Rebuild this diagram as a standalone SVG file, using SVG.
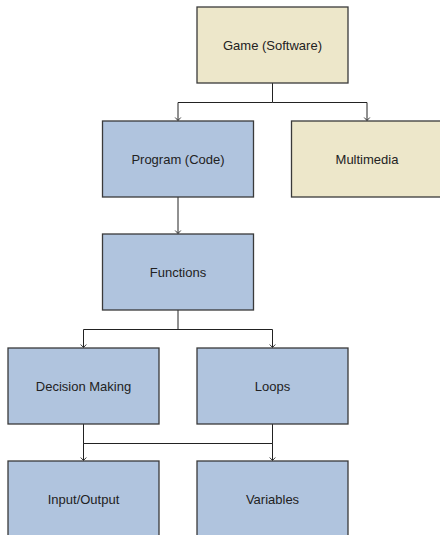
<svg xmlns="http://www.w3.org/2000/svg" width="440" height="535" viewBox="0 0 440 535">
<style>
.box{stroke:#3a3a3a;stroke-width:1.3}
.blue{fill:#b0c4de}
.beige{fill:#ede7ca}
.lbl{font-family:"Liberation Sans",Arial,sans-serif;font-size:13px;fill:#222;text-anchor:middle;dominant-baseline:central}
.edge{fill:none;stroke:#222;stroke-width:1}
</style>
<defs>
<marker id="arr" markerUnits="userSpaceOnUse" markerWidth="10" markerHeight="10" refX="5" refY="5" orient="auto" viewBox="0 0 10 10">
<path d="M2,2.2 L5,5 L2,7.8" fill="none" stroke="#222" stroke-width="0.9"/>
</marker>
</defs>
<rect width="440" height="535" fill="#fff"/>
<g id="connectors">
<path class="edge" d="M272.5,83 V102.5 H178 V120.5" marker-end="url(#arr)"/>
<path class="edge" d="M272.5,102.5 H367 V120.5" marker-end="url(#arr)"/>
<path class="edge" d="M178,197 V233.5" marker-end="url(#arr)"/>
<path class="edge" d="M178,310 V329.5 H83.5 V347.5" marker-end="url(#arr)"/>
<path class="edge" d="M178,329.5 H272.5 V347.5" marker-end="url(#arr)"/>
<path class="edge" d="M83.5,424 V443.5 H272.5 V460.5" marker-end="url(#arr)"/>
<path class="edge" d="M272.5,424 V443.5 H83.5 V460.5" marker-end="url(#arr)"/>
</g>
<g id="game"><rect class="box beige" x="197" y="7" width="151" height="76"/><text class="lbl" x="272.5" y="45">Game (Software)</text></g>
<g id="program"><rect class="box blue" x="102.5" y="121" width="151" height="76"/><text class="lbl" x="178" y="159">Program (Code)</text></g>
<g id="multimedia"><rect class="box beige" x="291.5" y="121" width="151" height="76"/><text class="lbl" x="367" y="159">Multimedia</text></g>
<g id="functions"><rect class="box blue" x="102.5" y="234" width="151" height="76"/><text class="lbl" x="178" y="272">Functions</text></g>
<g id="decision"><rect class="box blue" x="8" y="348" width="151" height="76"/><text class="lbl" x="83.5" y="386">Decision Making</text></g>
<g id="loops"><rect class="box blue" x="197" y="348" width="151" height="76"/><text class="lbl" x="272.5" y="386">Loops</text></g>
<g id="io"><rect class="box blue" x="8" y="461" width="151" height="76"/><text class="lbl" x="83.5" y="499">Input/Output</text></g>
<g id="variables"><rect class="box blue" x="197" y="461" width="151" height="76"/><text class="lbl" x="272.5" y="499">Variables</text></g>
</svg>
